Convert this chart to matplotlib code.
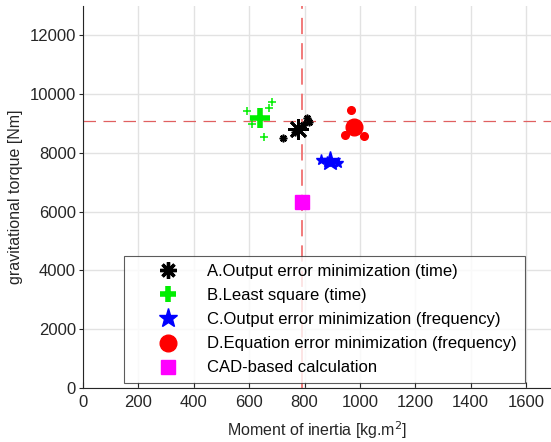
import numpy as np
import matplotlib

matplotlib.use("Agg")
import matplotlib.pyplot as plt
from matplotlib.lines import Line2D

plt.rcParams["font.family"] = ["Liberation Sans", "DejaVu Sans"]

# estimates: (inertia kg.m^2, torque Nm)
a_main = (775, 8800)
a_runs_x = [724, 765, 795, 810, 815]
a_runs_y = [8500, 8700, 8950, 9200, 9050]

b_main = (640, 9200)
b_runs_x = [591, 609, 652, 670, 681]
b_runs_y = [9430, 8990, 8550, 9540, 9740]

c_main = (893, 7720)
c_runs_x = [858, 880, 922]
c_runs_y = [7760, 7700, 7660]

d_main = (977, 8880)
d_runs_x = [968, 945, 1013]
d_runs_y = [9460, 8610, 8580]

cad = (790, 6320)
ref_inertia = 790
ref_torque = 9100

labels = [
    "A.Output error minimization (time)",
    "B.Least square (time)",
    "C.Output error minimization (frequency)",
    "D.Equation error minimization (frequency)",
    "CAD-based calculation",
]

W, H = 551, 442
fig = plt.figure(figsize=(W / 100, H / 100), dpi=100)
ax = fig.add_axes([83 / W, 54 / H, 468 / W, 382 / H])

ax.axvline(ref_inertia, color="#f07070", linestyle=(0, (9, 5)), linewidth=1.3, zorder=1)
ax.axhline(ref_torque, color="#e06060", linestyle=(0, (10, 6)), linewidth=0.9, zorder=1)

ast = (8, 2, 0)
# A - black asterisks
ax.plot(a_runs_x, a_runs_y, linestyle="none", marker=ast, color="black", ms=5.5, mew=1.2)
ax.plot(*a_main, marker=ast, color="black", ms=15, mew=2)
# B - green plus
ax.plot(b_runs_x, b_runs_y, linestyle="none", marker="+", color="#00ee00", ms=5.5, mew=1.1)
ax.plot(*b_main, marker="+", color="#00ee00", ms=15, mew=4)
# C - blue stars
ax.plot(c_runs_x, c_runs_y, linestyle="none", marker="*", color="blue", ms=8)
ax.plot(*c_main, marker="*", color="blue", ms=15)
# D - red circles
ax.plot(d_runs_x, d_runs_y, linestyle="none", marker="o", color="red", ms=5.5)
ax.plot(*d_main, marker="o", color="red", ms=12)
# CAD
ax.plot(*cad, marker="s", color="magenta", ms=10)

ax.set_xlim(0, 1690)
ax.set_ylim(0, 13000)
ax.set_xticks(np.arange(0, 1601, 200))
ax.set_yticks(np.arange(0, 12001, 2000))
ax.grid(True, color="#e2e2e2", linewidth=1)
ax.set_axisbelow(True)
ax.tick_params(labelsize=12, colors="#262626")
ax.tick_params(axis="x", direction="in", length=4, pad=5)
ax.tick_params(axis="y", direction="out", length=3, pad=2)
for s in ["top", "right"]:
    ax.spines[s].set_visible(False)
for s in ["left", "bottom"]:
    ax.spines[s].set_color("#262626")

ax.set_xlabel("Moment of inertia [kg.m$^2$]", fontsize=11.5, labelpad=7, color="#262626")
ax.set_ylabel("gravitational torque [Nm]", fontsize=11.5, labelpad=5, color="#262626")

handles = [
    Line2D([], [], linestyle="none", marker=ast, color="black", ms=12, mew=2.4),
    Line2D([], [], linestyle="none", marker="+", color="#00ee00", ms=12, mew=4),
    Line2D([], [], linestyle="none", marker="*", color="blue", ms=14),
    Line2D([], [], linestyle="none", marker="o", color="red", ms=12),
    Line2D([], [], linestyle="none", marker="s", color="magenta", ms=10),
]
leg = ax.legend(handles, labels, loc="lower left", bbox_to_anchor=(41 / 468, 5 / 382),
                fontsize=12, frameon=True, fancybox=False, edgecolor="#333333",
                borderpad=0.45, labelspacing=0.55, handletextpad=0.15, handlelength=4.4,
                borderaxespad=0)
leg.get_frame().set_linewidth(0.8)

fig.savefig("out.png", dpi=100)
